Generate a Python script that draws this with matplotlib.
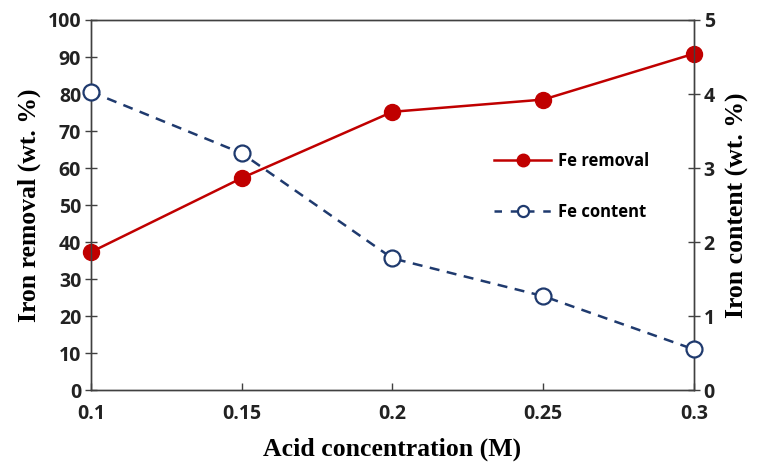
import matplotlib.pyplot as plt
from matplotlib.lines import Line2D

acid = [0.1, 0.15, 0.2, 0.25, 0.3]
fe_removal = [37.3, 57.3, 75.2, 78.5, 90.9]
fe_content = [4.03, 3.2, 1.78, 1.27, 0.55]
x_labels = ["0.1", "0.15", "0.2", "0.25", "0.3"]

red = "#C00000"
navy = "#1F3A6E"
tick_font = {"family": "Open Sans", "weight": "bold", "size": 14}

fig = plt.figure(figsize=(7.58, 4.65), dpi=100)
ax = fig.add_axes([0.12, 0.161, 0.7956, 0.796])
ax2 = ax.twinx()

l1, = ax.plot(acid, fe_removal, color=red, lw=1.8, marker="o", ms=11.5,
              mfc=red, mec=red, zorder=3)
l2, = ax2.plot(acid, fe_content, color=navy, lw=1.8, ls=(0, (4, 3)), marker="o",
               ms=11.5, mfc="white", mec=navy, mew=1.6,
               clip_on=False, zorder=3)
l1.set_clip_on(False)

ax.set_xlim(0.1, 0.3)
ax.set_ylim(0, 100)
ax2.set_ylim(0, 5)
ax.set_xticks(acid)
ax.set_xticklabels(x_labels)
ax.set_yticks(range(0, 101, 10))
ax2.set_yticks(range(0, 6))

for a in (ax, ax2):
    for s in a.spines.values():
        s.set_color("#404040")
        s.set_linewidth(1.0)
    for lab in a.get_xticklabels() + a.get_yticklabels():
        lab.set_fontproperties(tick_font)
        lab.set_color("#222222")

ax.tick_params(axis="y", direction="inout", length=8, width=1, color="#404040", pad=3)
ax2.tick_params(axis="y", direction="inout", length=8, width=1, color="#404040", pad=3)
ax.tick_params(axis="x", direction="in", length=5, width=1, color="#404040", pad=10)

label_font = {"family": "Liberation Serif", "weight": "bold", "size": 18.5}
ax.set_xlabel("Acid concentration (M)", fontdict=label_font, labelpad=10)
ax.set_ylabel("Iron removal (wt. %)", fontdict=label_font, labelpad=5)
ax2.set_ylabel("Iron content (wt. %)", fontdict=label_font, labelpad=8)

# legend handles with smaller markers than the plotted points
h1 = Line2D([], [], color=red, lw=1.8, marker="o", ms=9, mfc=red, mec=red)
h2 = Line2D([], [], color=navy, lw=1.8, ls=(0, (3, 3.5)), marker="o", ms=8,
            mfc="white", mec=navy, mew=1.6)
leg = ax.legend(handles=[h1, h2], labels=["Fe removal", "Fe content"],
                loc="center left", bbox_to_anchor=(0.655, 0.55),
                frameon=False, handlelength=3.4, handletextpad=0.4,
                labelspacing=2.0, borderpad=0,
                prop={"family": "Open Sans", "weight": "bold", "size": 12})
leg.set_zorder(5)

fig.savefig("out.png", dpi=100)
